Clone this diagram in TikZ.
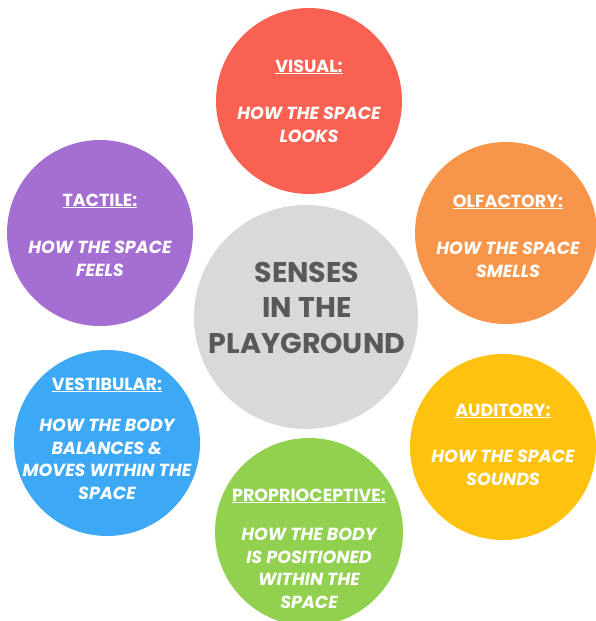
\documentclass[tikz,border=0pt]{standalone}
\usepackage{fontspec}
\setmainfont{Poppins}
\definecolor{cvis}{HTML}{F96253}
\definecolor{colf}{HTML}{F7964A}
\definecolor{ctac}{HTML}{A56ED3}
\definecolor{cctr}{HTML}{D9D9D9}
\definecolor{cves}{HTML}{3DA8F5}
\definecolor{caud}{HTML}{FFC20E}
\definecolor{cpro}{HTML}{92D050}
\definecolor{ctxt}{HTML}{595959}
\tikzset{
  sense/.style={circle, inner sep=0pt, draw=none},
  head/.style={anchor=base, text=white, inner sep=0pt, font=\fontsize{17.5}{21}\selectfont\bfseries},
  body/.style={anchor=base, text=white, inner sep=0pt, align=center, font=\fontsize{17.5}{22.5}\selectfont\bfseries\itshape},
  ctrtext/.style={anchor=base, text=ctxt, inner sep=0pt, align=center, font=\fontsize{28.5}{35.5}\selectfont\bfseries},
}
\begin{document}
\begin{tikzpicture}[x=1pt,y=-1pt]
\useasboundingbox (0,0) rectangle (596,621);
\node[sense, fill=cctr, minimum size=224pt] (ctr) at (306,317) {};
\node[sense, fill=cvis, minimum size=186pt] (vis) at (309,101) {};
\node[sense, fill=colf, minimum size=182pt] (olf) at (506,233) {};
\node[sense, fill=ctac, minimum size=186pt] (tac) at (100,233) {};
\node[sense, fill=cves, minimum size=186pt] (ves) at (107,443) {};
\node[sense, fill=caud, minimum size=186pt] (aud) at (503,447) {};
\node[sense, fill=cpro, minimum size=188pt] (pro) at (309,532) {};

\node[ctrtext] (ctrt) at (307,353) {SENSES\\IN THE\\PLAYGROUND};

\node[head] (vish) at (309,72) {\underline{VISUAL:}};
\node[body] (visb) at (309,142) {HOW THE SPACE\\LOOKS};

\node[head] (olfh) at (508,207) {\underline{OLFACTORY:}};
\node[body] (olfb) at (508,277) {HOW THE SPACE\\SMELLS};

\node[head] (tach) at (100,206) {\underline{TACTILE:}};
\node[body] (tacb) at (100,276) {HOW THE SPACE\\FEELS};

\node[head] (vesh) at (107,390) {\underline{VESTIBULAR:}};
\node[body] (vesb) at (107,499) {HOW THE BODY\\BALANCES \&\\MOVES WITHIN THE\\SPACE};

\node[head] (audh) at (503,416) {\underline{AUDITORY:}};
\node[body] (audb) at (503,485) {HOW THE SPACE\\SOUNDS};

\node[head] (proh) at (309,501) {\underline{PROPRIOCEPTIVE:}};
\node[body] (prob) at (309,608) {HOW THE BODY\\IS POSITIONED\\WITHIN THE\\SPACE};
\end{tikzpicture}
\end{document}
